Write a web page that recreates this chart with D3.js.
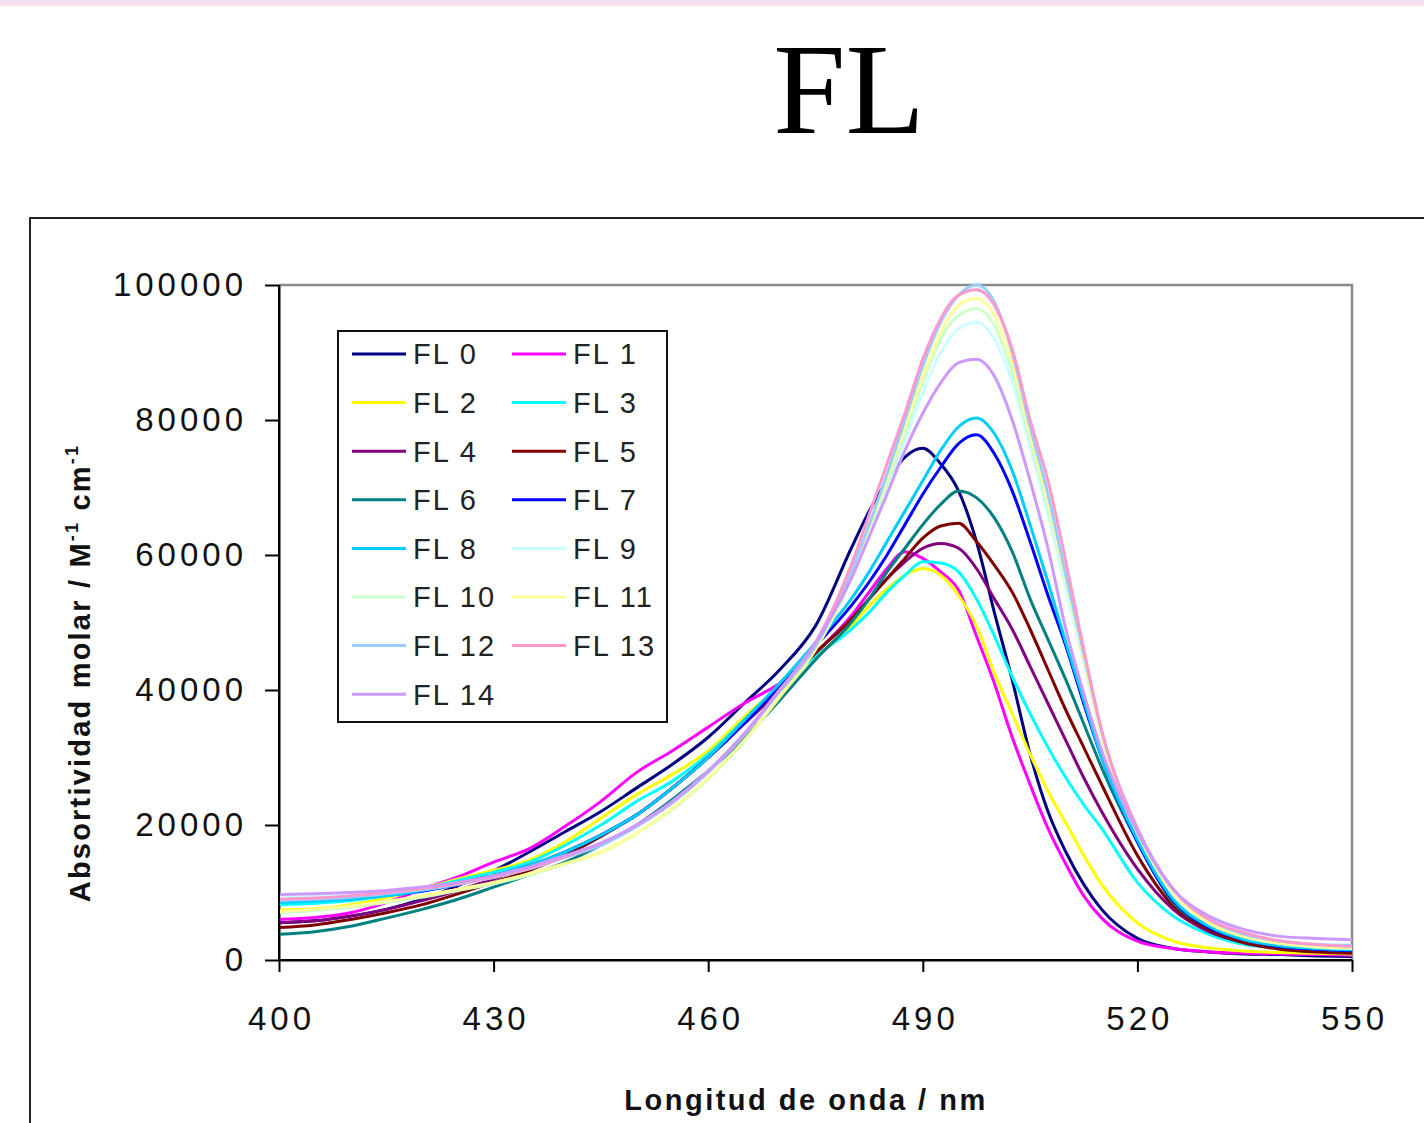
<!DOCTYPE html>
<html><head><meta charset="utf-8">
<script src="https://cdn.jsdelivr.net/npm/d3@7"></script>
<style>body{margin:0;background:#fff} svg{display:block}</style>
</head><body>
<svg id="chart" width="1424" height="1123"></svg>
<script>
// ---------- DATA ----------
const wavelengths = [400,405,410,415,420,425,430,435,440,445,450,455,460,465,470,475,480,
  482.5,485,487.5,490,492.5,495,497.5,500,502.5,505,507.5,510,512.5,515,
  520,525,530,535,540,545,550];

const seriesNames = ["FL 0","FL 1","FL 2","FL 3","FL 4","FL 5","FL 6","FL 7","FL 8","FL 9","FL 10","FL 11","FL 12","FL 13","FL 14"];
const seriesColors = ["#000080","#FF00FF","#FFFF00","#00FFFF","#800080","#800000","#008080","#0000FF","#00CCFF","#CCFFFF","#CCFFCC","#FFFF99","#99CCFF","#FF99CC","#CC99FF"];

const fl0 = [5500,5800,6500,7500,9000,11000,13200,16000,19000,22000,25500,29000,33000,38000,43000,49500,61000,
  66500,71000,74500,75800,73500,69500,62000,51500,41500,30500,22000,16000,11200,7500,
  3200,1700,1200,900,800,600,500];
const fl1 = [6000,6300,7000,8500,10500,12300,14500,16500,19800,23500,27800,31000,34500,38000,41000,45500,51000,
  54500,58000,60500,59500,57500,54800,48000,41000,33000,26000,19500,14200,9500,6200,
  2800,1700,1200,1000,900,800,700];
const fl2 = [7400,7600,8200,9200,10500,12000,13300,14800,17500,21000,24500,27500,31000,36000,40500,45000,49500,
  52500,55000,57000,58000,57000,54000,49500,42500,36500,30500,25000,20300,15500,11200,
  5500,2800,1800,1300,1100,1000,900];
const fl3 = [8200,8400,8800,9500,10500,11800,13000,14500,17000,20000,23500,26500,30500,35500,40500,45000,49000,
  51500,54500,57000,59000,58800,57500,53500,48000,42000,36500,31500,27000,23000,19500,
  11500,6500,3800,2300,1800,1600,1500];
const fl4 = [5500,5800,6500,7500,8800,10300,12000,13800,16000,18500,21500,25500,30000,35000,40000,45500,50500,
  53500,56500,59000,61000,61700,61000,58000,53500,49000,43500,38000,32500,27000,22000,
  13500,7500,4200,2600,1900,1600,1500];
const fl5 = [4800,5200,6000,7000,8200,9800,11500,13300,15500,18300,21500,25500,30000,35000,40000,45500,50500,
  53500,56500,59500,62500,64300,64700,62000,58500,54500,49000,43000,37000,31500,26000,
  15500,8000,4500,2500,1600,1200,1000];
const fl6 = [3800,4200,5000,6200,7500,9000,10800,12600,14500,17000,20000,23800,28000,32800,38500,44500,50000,
  53500,57500,61000,64500,67500,69500,68500,65500,60500,53500,47500,41500,35000,28500,
  17500,8500,5000,3000,2000,1600,1400];
const fl7 = [9000,9200,9400,9600,10200,11200,12500,14000,16000,18500,21500,25500,30000,35000,40500,46500,52500,
  56000,60000,64500,69000,73000,76500,77800,75000,69500,62000,54000,46500,38000,30000,
  17500,8800,4800,3000,2000,1600,1400];
const fl8 = [8500,8700,9000,9500,10300,11300,12500,14000,16000,18500,21500,25500,30000,35500,41000,47000,53500,
  57500,62000,66500,71000,75500,79000,80300,78000,72500,64500,56000,47000,38500,30000,
  17800,9000,5000,3000,2100,1700,1500];
const fl9 = [9300,9400,9600,10000,10600,11300,12300,13600,15300,17200,19900,23400,27900,33400,40000,46500,57000,
  63500,70000,77000,84000,90000,93500,94500,92000,85500,76000,66000,55000,44000,33000,
  19000,10000,5500,3500,2500,2000,1800];
const fl10 = [7000,7300,7800,8500,9300,10300,11300,12600,14200,15900,18700,22300,26800,32300,39000,46000,56500,
  63500,70500,78000,85500,92000,95500,96500,94000,87000,77000,67000,56000,44500,33000,
  19000,10000,5500,3400,2400,1900,1700];
const fl11 = [7200,7500,8000,8700,9500,10500,11500,12800,14300,16000,18800,22500,27000,32500,39000,46000,57000,
  64000,71500,79000,86500,93000,97000,98000,95500,88500,78000,68000,56500,45000,33500,
  19000,10000,5500,3500,2500,2000,1800];
const fl12 = [8800,9000,9300,9800,10400,11200,12200,13500,15200,17000,19800,23300,27800,33300,39800,46500,57500,
  64500,72000,80000,88000,94500,98500,100000,97500,90000,79000,69000,57000,45500,34000,
  19500,10500,6000,3800,2800,2300,2200];
const fl13 = [9000,9200,9500,10000,10600,11300,12300,13600,15300,17300,20000,23500,28000,33500,40000,47000,58500,
  66000,73500,81000,89000,95000,98500,99300,97000,90500,80000,71000,59000,46000,34000,
  19500,10500,6000,4000,2800,2300,2000];
const fl14 = [9700,9800,10000,10300,10800,11500,12500,13800,15500,17300,20000,23500,28000,33500,40000,47000,56500,
  62700,69000,75500,81000,85500,88500,89000,86500,80000,71000,61000,49000,39500,31000,
  19000,10500,6500,4500,3500,3200,3000];

const xTicks = [400,430,460,490,520,550];
const yTicks = [0,20000,40000,60000,80000,100000];
const titleText = "FL";
const xTitle = "Longitud de onda / nm";

// ---------- DRAW ----------
const allValues = [fl0,fl1,fl2,fl3,fl4,fl5,fl6,fl7,fl8,fl9,fl10,fl11,fl12,fl13,fl14];
const series = seriesNames.map((n,i)=>({name:n,color:seriesColors[i],
  points: wavelengths.map((w,j)=>({w:w,v:allValues[i][j]}))}));

const svg = d3.select("#chart");
svg.append("rect").attr("x",0).attr("y",0).attr("width",1424).attr("height",6).attr("fill","#f7dff0");

svg.append("text").attr("x",849).attr("y",133).attr("text-anchor","middle")
  .attr("font-family","'Liberation Serif','Times New Roman',serif").attr("font-size",130)
  .attr("fill","#000").text(titleText);

svg.append("rect").attr("x",30).attr("y",218).attr("width",1420).attr("height",930)
  .attr("fill","none").attr("stroke","#222").attr("stroke-width",2);

const x = d3.scaleLinear().domain([400,550]).range([279,1352]);
const y = d3.scaleLinear().domain([0,100000]).range([960,285]);

// gray plot frame (top & right)
svg.append("path").attr("d",`M${x(400)},${y(100000)}H${x(550)}V${y(0)}`)
  .attr("fill","none").attr("stroke","#8a8a8a").attr("stroke-width",2.5);

const fontSans = "'Liberation Sans',Arial,sans-serif";

const gx = svg.append("g").attr("transform",`translate(0,${y(0)})`)
  .call(d3.axisBottom(x).tickValues(xTicks).tickSize(12).tickSizeOuter(0).tickPadding(35).tickFormat(d=>d));
const gy = svg.append("g").attr("transform",`translate(${x(400)},0)`)
  .call(d3.axisLeft(y).tickValues(yTicks).tickSize(14).tickSizeOuter(0).tickPadding(18).tickFormat(d=>d));
[gx,gy].forEach(g=>{
  g.select(".domain").attr("stroke","#000").attr("stroke-width",2);
  g.selectAll(".tick line").attr("stroke","#000").attr("stroke-width",2);
  g.selectAll(".tick text").attr("font-family",fontSans).attr("font-size",33)
    .attr("fill","#111").attr("letter-spacing","4px");
});
gx.selectAll(".tick text").attr("dx",2);

// lines
const line = d3.line().x(d=>x(d.w)).y(d=>y(d.v)).curve(d3.curveMonotoneX);
svg.append("g").selectAll("path").data(series).join("path")
  .attr("d",d=>line(d.points)).attr("fill","none")
  .attr("stroke",d=>d.color).attr("stroke-width",3).attr("stroke-linejoin","round");

// redraw axis lines on top
svg.append("line").attr("x1",x(400)).attr("x2",x(400)).attr("y1",y(100000)).attr("y2",y(0))
  .attr("stroke","#000").attr("stroke-width",2);
svg.append("line").attr("x1",x(400)).attr("x2",x(550)).attr("y1",y(0)).attr("y2",y(0))
  .attr("stroke","#000").attr("stroke-width",2);

// axis titles
svg.append("text").attr("x",806).attr("y",1110).attr("text-anchor","middle")
  .attr("font-family",fontSans).attr("font-weight","bold").attr("font-size",29)
  .attr("letter-spacing","2.5px").attr("fill","#111").text(xTitle);

const yt = svg.append("text").attr("transform","translate(90,673) rotate(-90)").attr("text-anchor","middle")
  .attr("font-family",fontSans).attr("font-weight","bold").attr("font-size",29)
  .attr("letter-spacing","2.2px").attr("fill","#111");
yt.append("tspan").text("Absortividad molar / M");
yt.append("tspan").attr("font-size",18).attr("dy",-12).text("-1");
yt.append("tspan").attr("dy",12).text(" cm");
yt.append("tspan").attr("font-size",18).attr("dy",-12).text("-1");

// legend
const lg = svg.append("g");
lg.append("rect").attr("x",338).attr("y",331).attr("width",329).attr("height",391)
  .attr("fill","#fff").attr("stroke","#111").attr("stroke-width",2);
const colX = [352,512];
series.forEach((s,i)=>{
  const col = i%2, row = Math.floor(i/2);
  const ly = 354 + row*48.6;
  lg.append("line").attr("x1",colX[col]).attr("x2",colX[col]+54).attr("y1",ly).attr("y2",ly)
    .attr("stroke",s.color).attr("stroke-width",3);
  lg.append("text").attr("x",colX[col]+61).attr("y",ly).attr("dy","0.36em")
    .attr("font-family",fontSans).attr("font-size",29).attr("letter-spacing","2px")
    .attr("fill","#222").text(s.name);
});
</script>
</body></html>
